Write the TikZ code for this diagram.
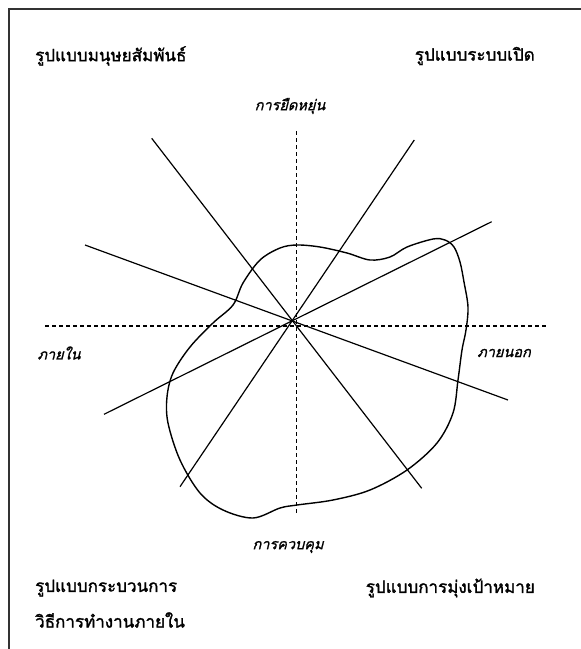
\documentclass[tikz,border=0pt]{standalone}
\usepackage{fontspec}
\newfontfamily\thaibold[Script=Thai,FakeBold=1.6]{Loma}
\newfontfamily\thaislant[Script=Thai,FakeSlant=0.25,FakeBold=1.2]{Loma}
\begin{document}
\begin{tikzpicture}[x=1pt,y=-1pt,
  cornerlabel/.style={font=\thaibold\fontsize{17}{19}\selectfont, inner sep=0pt},
  axislabel/.style={font=\thaislant\fontsize{14.5}{16}\selectfont, inner sep=0pt},
  ray/.style={line width=1.2pt},
  axisdash/.style={line width=1.1pt, dash pattern=on 4pt off 3pt},
  blobline/.style={line width=1.4pt, line join=round}]
\useasboundingbox (0,0) rectangle (581,649);
% frame (left and top edges)
\draw[line width=1.6pt, black!80] (9,649) -- (9,9) -- (581,9);
% dashed axes
\coordinate (vt) at (296.5,131);
\coordinate (vb) at (296.5,515);
\coordinate (hl) at (45,326);
\coordinate (hr) at (548,326);
\draw[axisdash] (vt) -- (vb);
\draw[axisdash] (hl) -- (hr);
% blob
\draw[blobline] plot[smooth cycle, tension=0.55] coordinates {
 (297,245) (320,247) (347,253) (370,260) (390,257) (407,247) (433,239) (445,240)
 (454,247) (460,262) (464,282) (468,307) (466,330) (462,350) (458,380) (453,413)
 (437,443) (407,470) (370,490) (333,500) (297,505) (280,508) (253,518) (223,510)
 (200,493) (180,460) (168,423) (167,397) (173,373) (190,347) (213,323) (233,305)
 (243,283) (260,260) (280,248)};
% rays through the centre
\coordinate (c) at (292,321);
\coordinate (a1) at (85,245);
\coordinate (b1) at (508,400);
\coordinate (a2) at (151.7,138.3);
\coordinate (b2) at (421.7,488.3);
\coordinate (a3) at (414.3,140);
\coordinate (b3) at (180,486.7);
\coordinate (a4) at (491.7,221.7);
\coordinate (b4) at (104,414.3);
\draw[ray] (a1) -- (b1);
\draw[ray] (a2) -- (b2);
\draw[ray] (a3) -- (b3);
\draw[ray] (a4) -- (b4);
% labels
\node[cornerlabel, anchor=west] (tl) at (35,56) {รูปแบบมนุษยสัมพันธ์};
\node[cornerlabel, anchor=east] (tr) at (535,56) {รูปแบบระบบเปิด};
\node[cornerlabel, anchor=west] (bl1) at (35,588) {รูปแบบกระบวนการ};
\node[cornerlabel, anchor=west] (bl2) at (35,620) {วิธีการทำงานภายใน};
\node[cornerlabel, anchor=east] (br) at (535,588) {รูปแบบการมุ่งเป้าหมาย};
\node[axislabel] (top) at (290,106) {การยืดหยุ่น};
\node[axislabel] (bot) at (288,547) {การควบคุม};
\node[axislabel] (lft) at (59,353) {ภายใน};
\node[axislabel] (rgt) at (504,353) {ภายนอก};
\end{tikzpicture}
\end{document}
